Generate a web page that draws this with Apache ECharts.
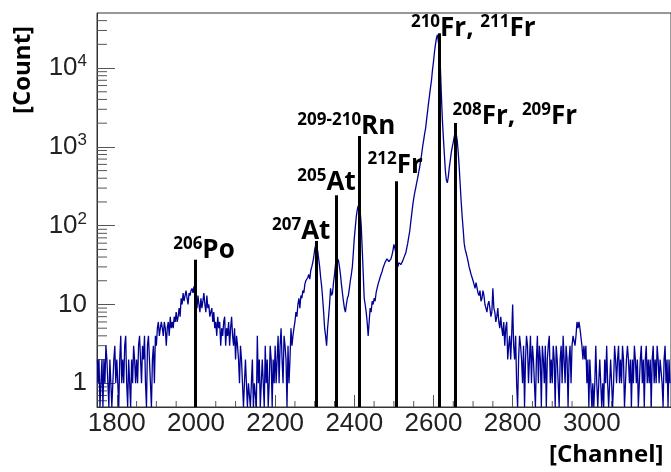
<!DOCTYPE html>
<html><head><meta charset="utf-8">
<script src="https://cdn.jsdelivr.net/npm/echarts@6/dist/echarts.min.js"></script>
<style>html,body{margin:0;padding:0;background:#fff}#c{width:671px;height:472px}</style>
</head><body><div id="c"></div>
<script>
// Histogram: 2.5-channel bins starting at channel 1750 (one row = 50 channels)
const binStart = 1750;
const binWidth = 2.5;
const counts = [
  2,1,2,0,1,2,0,2,1,3,2,1,0,2,1,0,1,2,3,1,
  2,1,0,2,4,1,2,1,3,4,1,0,2,1,0,2,1,3,2,1,
  2,1,3,4,2,1,3,2,4,1,0,3,4,2,1,0,2,3,1,4,
  3,5,6,4,5,6,5,4,6,5,3,5,6,4,7,5,6,5,7,6,
  8,6,7,9,7,12,10,14,11,13,15,12,10,14,13,15,16,14,17,12,
  11,9,13,10,8,12,9,11,14,10,8,13,9,10,7,8,9,6,8,5,
  6,4,7,5,6,3,5,4,6,7,3,5,4,6,3,5,7,4,3,5,
  2,4,3,2,1,3,2,1,0,1,2,1,0,1,1,0,1,2,0,1,
  1,0,4,1,2,0,1,2,1,0,3,1,2,0,1,3,2,0,2,1,
  3,1,2,4,1,3,5,2,1,4,3,2,0,3,1,2,5,3,4,5,
  6,8,7,10,12,9,13,12,15,14,18,20,19,22,24,21,27,30,34,40,
  50,57,60,48,38,30,22,17,12,8,5,4,3,5,7,10,16,13,14,19,
  24,32,40,42,36,30,24,18,14,11,9,8,10,12,13,16,20,24,30,45,
  70,95,130,160,180,175,150,100,50,25,12,10,8,6,4,6,9,8,11,10,
  12,11,14,16,18,17,22,24,26,29,30,34,36,38,40,35,34,38,42,48,
  58,52,45,38,30,34,36,32,33,36,38,42,45,52,60,72,85,110,140,180,
  220,260,300,350,400,470,550,670,800,1000,1200,1450,1700,2200,2800,3600,4500,5700,7000,9500,
  12000,16000,20000,24000,26500,25000,17000,10000,4500,2200,1300,800,500,380,350,420,550,680,850,1000,
  1150,1350,1550,1450,1200,850,550,330,200,130,90,60,50,45,40,35,30,27,24,22,
  20,18,16,19,18,14,13,15,11,12,15,13,10,9,8,10,11,9,7,8,
  16,9,8,6,7,9,6,5,7,5,4,6,3,5,6,2,3,4,2,4,
  10,3,2,4,1,0,2,4,3,2,1,3,0,2,4,3,1,2,4,1,
  3,2,1,0,2,4,1,3,2,0,3,2,1,3,0,2,3,4,1,2,
  1,3,2,0,3,2,1,0,2,3,1,4,2,1,3,2,0,2,3,1,
  3,4,4,3,4,6,5,6,5,5,3,2,3,2,3,1,2,0,2,1,
  0,1,0,1,3,1,0,1,2,1,0,1,0,2,1,3,1,0,1,2,
  1,0,1,3,2,1,2,3,1,2,1,3,2,0,1,2,3,2,1,2,
  0,2,1,3,2,1,2,0,1,2,3,1,2,0,2,3,1,2,1,2,
  0,2,3,1,2,1,3,2,1,2,2,1,0,2,3,1,2,0,2,1
];
// Isotope marker lines
const peakChannels = [1997, 2304, 2354, 2412, 2507, 2614, 2654];
const peakHeights  = [37, 64, 243, 1370, 366, 27700, 2010];
// Marker labels (rich text) and their anchor points (left edge, vertical middle)
const peakLabels = ['{s|206}{m|Po}', '{s|207}{m|At}', '{s|205}{m|At}', '{s|209-210}{m|Rn}', '{s|212}{m|Fr}', '{s|210}{m|Fr, }{s|211}{m|Fr}', '{s|208}{m|Fr, }{s|209}{m|Fr}'];
const labelChannels = [1942.5, 2192, 2256, 2256, 2433.5, 2543, 2648];
const labelCounts   = [48.7, 85, 356, 1825, 584, 32000, 2445];
// Axis settings
const xMin = 1750, xMax = 3200;
const yMin = 0.5, yMax = 50000;
const yDecades = [0.1, 1, 10, 100, 1000, 10000];
const yMinorMult = [2,3,4,5,6,7,8,9];
const xMinorStep = 50;
const xMajorStep = 200;

const histData = counts.map((c, i) => [binStart + binWidth * (i + 0.5), c > 0 ? c : yMin]);
const yMinor = [];
yDecades.forEach(d => yMinorMult.forEach(m => { const v = d * m; if (v > yMin && v < yMax) yMinor.push(v); }));
const xMinor = [];
for (let v = 1800; v < xMax; v += xMinorStep) if (v % xMajorStep !== 0) xMinor.push(v);

const chart = echarts.init(document.getElementById('c'), null, {renderer: 'canvas'});
const labelFont = 'Liberation Sans';
const annFont = 'Open Sans';
chart.setOption({
  animation: false,
  backgroundColor: '#fff',
  grid: {left: 97, top: 13, width: 580, height: 394, show: true, borderColor: '#333', borderWidth: 1, backgroundColor: 'transparent'},
  xAxis: {
    type: 'value', min: xMin, max: xMax, splitNumber: 7,
    axisLine: {show: true, onZero: false, lineStyle: {color: '#333', width: 1}},
    axisTick: {show: true, inside: true, length: 12, lineStyle: {color: '#555'}},
    splitLine: {show: false},
    axisLabel: {margin: 4, showMinLabel: false, showMaxLabel: false, fontFamily: labelFont, fontSize: 26, color: '#222',
      formatter: v => String(v)}
  },
  yAxis: {
    type: 'log', logBase: 10, min: yMin, max: yMax,
    axisLine: {show: true, lineStyle: {color: '#333', width: 1}},
    axisTick: {show: true, inside: true, length: 18, lineStyle: {color: '#555'}},
    splitLine: {show: false},
    axisLabel: {
      margin: 10, showMinLabel: false, showMaxLabel: false,
      fontFamily: labelFont, fontSize: 26, color: '#222',
      formatter: function (v) {
        const n = Math.round(Math.log10(v));
        if (n === 0) return '{b|1}';
        if (n === 1) return '{b|10}';
        return '{b|10}{s|' + n + '}';
      },
      rich: {
        b: {fontFamily: labelFont, fontSize: 26, color: '#222', lineHeight: 30},
        s: {fontFamily: labelFont, fontSize: 17, color: '#222', lineHeight: 20, verticalAlign: 'top'}
      }
    }
  },
  graphic: [
    {type: 'text', left: 549, top: 443, style: {text: '[Channel]', fontFamily: annFont, fontWeight: 'bold', fontSize: 24, fill: '#000'}},
    {type: 'text', x: 23, y: 70, rotation: Math.PI / 2, style: {text: '[Count]', fontFamily: annFont, fontWeight: 'bold', fontSize: 24, fill: '#000', align: 'center', verticalAlign: 'middle'}}
  ],
  series: [
    {
      type: 'line', data: histData, step: 'middle', showSymbol: false, symbol: 'none',
      lineStyle: {color: '#000096', width: 1.3}, clip: true, z: 3,
      markLine: {
        symbol: 'none', silent: true, animation: false, label: {show: false},
        lineStyle: {color: '#000', width: 3, type: 'solid'},
        data: peakChannels.map((c, i) => [{coord: [c, yMin]}, {coord: [c, peakHeights[i]]}])
      }
    },
    {
      type: 'scatter', symbolSize: 0, silent: true, z: 5,
      itemStyle: {opacity: 1},
      data: labelChannels.map((c, i) => ({value: [c, labelCounts[i]], label: {formatter: peakLabels[i]}})),
      label: {
        show: true, position: [0, 0], align: 'left', verticalAlign: 'middle',
        color: '#000', opacity: 1, textBorderWidth: 0,
        fontFamily: annFont, fontWeight: 'bold', fontSize: 26,
        rich: {
          m: {fontFamily: annFont, fontWeight: 'bold', fontSize: 26, color: '#000', lineHeight: 30, verticalAlign: 'middle'},
          s: {fontFamily: annFont, fontWeight: 'bold', fontSize: 17, color: '#000', lineHeight: 16, verticalAlign: 'top'}
        }
      }
    },
    {
      type: 'custom', silent: true, z: 2,
      data: yMinor.map(v => [xMin, v]),
      renderItem: function (params, api) {
        const p = api.coord([api.value(0), api.value(1)]);
        return {type: 'line', shape: {x1: p[0], y1: p[1], x2: p[0] + 10, y2: p[1]}, style: {stroke: '#555', lineWidth: 1}};
      }
    },
    {
      type: 'custom', silent: true, z: 2,
      data: xMinor.map(v => [v, yMin]),
      renderItem: function (params, api) {
        const p = api.coord([api.value(0), api.value(1)]);
        return {type: 'line', shape: {x1: p[0], y1: p[1], x2: p[0], y2: p[1] - 6}, style: {stroke: '#555', lineWidth: 1}};
      }
    }
  ]
});
</script></body></html>
